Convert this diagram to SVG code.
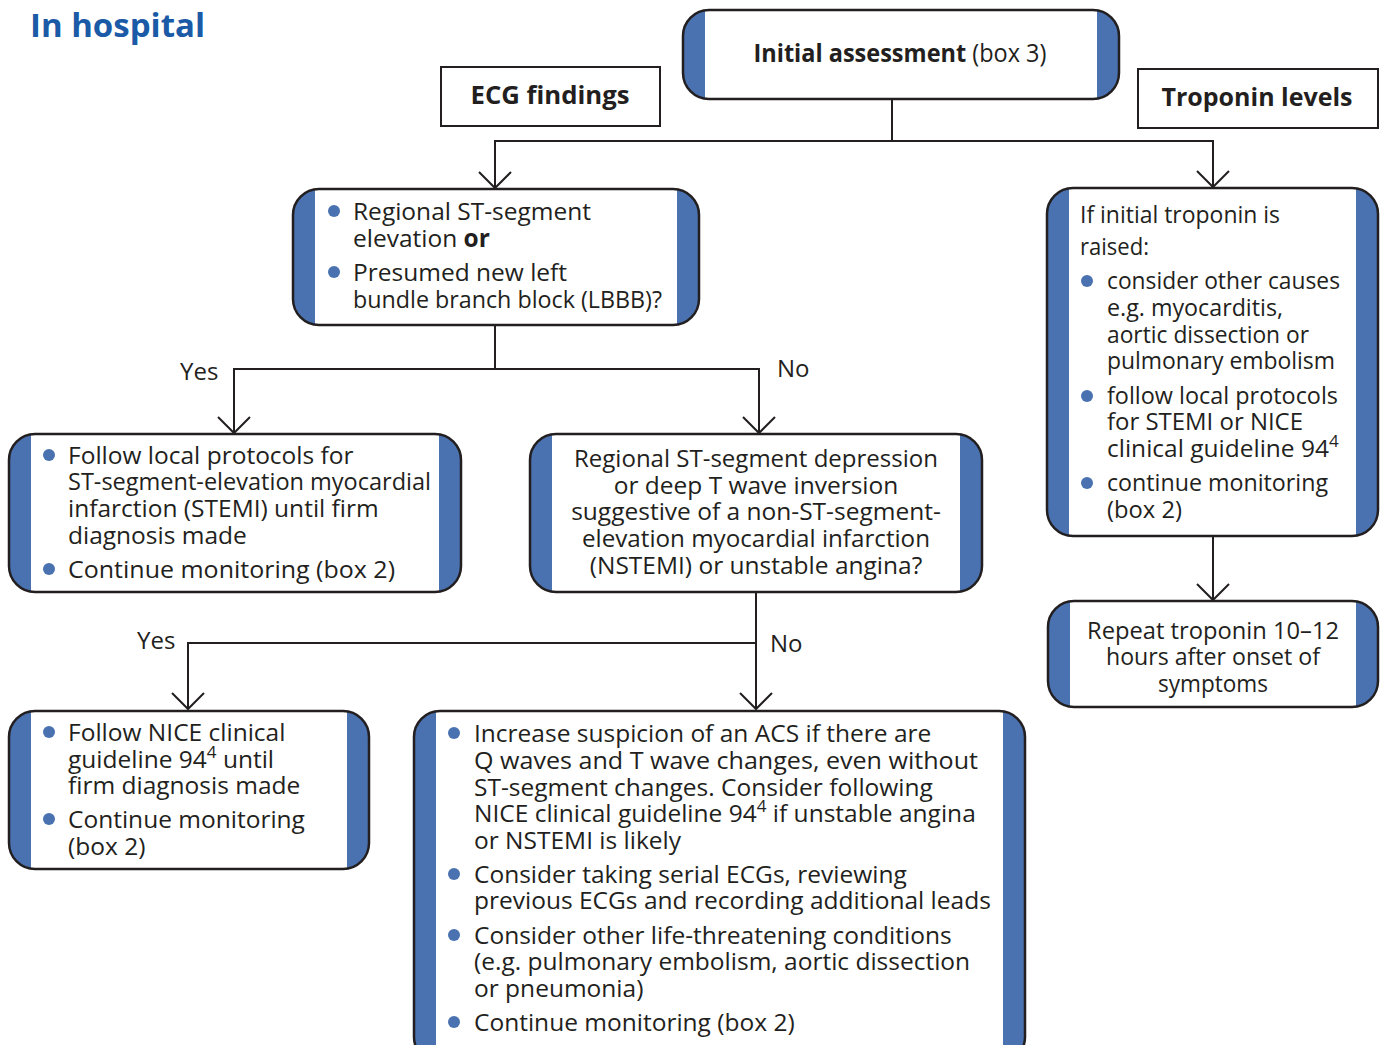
<svg xmlns="http://www.w3.org/2000/svg" width="1385" height="1045" viewBox="0 0 1385 1045">
  <style>
    text { font-family: "Open Sans", "Noto Sans", "Liberation Sans", sans-serif; fill: #231f20; font-size: 24.5px; }
    .title { font-size: 33px; font-weight: bold; fill: #1a5aa6; }
    .hd { font-size: 25px; font-weight: bold; }
    .b { font-weight: bold; }
    .lbl { font-size: 24px; }
    .mid { text-anchor: middle; }
    .sup { font-size: 17px; }
    .band { fill: #4a72b0; stroke: none; }
    .inner { fill: #ffffff; stroke: none; }
    .edge { fill: none; stroke: #231f20; stroke-width: 2.5; }
    .plain { fill: #ffffff; stroke: #231f20; stroke-width: 2; }
    .dot { fill: #4a72b0; }
    .wire { fill: none; stroke: #231f20; stroke-width: 2; }
    .head { fill: none; stroke: #231f20; stroke-width: 2; }
  </style>
  <defs>
    <!-- open arrowhead, tip at the origin, pointing down -->
    <path id="vee" class="head" d="M -16 -16 L 0 0 L 16 -16"/>
  </defs>

  <rect x="0" y="0" width="1385" height="1045" fill="#ffffff"/>

  <text class="title" x="30" y="37">In hospital</text>

  <!-- connectors -->
  <g id="connectors">
    <path class="wire" d="M 892 99 V 141 H 495 V 188"/>
    <path class="wire" d="M 892 141 H 1213 V 187"/>
    <use href="#vee" x="495" y="188"/>
    <use href="#vee" x="1213" y="187"/>

    <path class="wire" d="M 495 325 V 369 H 234 V 433"/>
    <path class="wire" d="M 495 369 H 759 V 433"/>
    <use href="#vee" x="234" y="433"/>
    <use href="#vee" x="759" y="433"/>
    <text class="lbl" x="180" y="380">Yes</text>
    <text class="lbl" x="777" y="377">No</text>

    <path class="wire" d="M 756 592 V 709"/>
    <path class="wire" d="M 756 643 H 188 V 709"/>
    <use href="#vee" x="756" y="709"/>
    <use href="#vee" x="188" y="709"/>
    <text class="lbl" x="137" y="649">Yes</text>
    <text class="lbl" x="770" y="652">No</text>

    <path class="wire" d="M 1213 536 V 600"/>
    <use href="#vee" x="1213" y="600"/>
  </g>

  <!-- header boxes -->
  <g id="n-initial">
    <rect class="band" x="683" y="10" width="436" height="89" rx="26"/>
    <rect class="inner" x="705" y="11" width="392" height="87"/>
    <rect class="edge" x="683" y="10" width="436" height="89" rx="26"/>
    <text class="hd mid" x="900" y="62" font-size="24" textLength="293" lengthAdjust="spacingAndGlyphs"><tspan class="b">Initial assessment</tspan><tspan font-weight="normal"> (box 3)</tspan></text>
  </g>

  <g id="n-ecg">
    <rect class="plain" x="441" y="67" width="219" height="59"/>
    <text class="hd mid" x="550" y="104" textLength="159" lengthAdjust="spacingAndGlyphs">ECG findings</text>
  </g>

  <g id="n-troponin">
    <rect class="plain" x="1138" y="69" width="240" height="59"/>
    <text class="hd mid" x="1257" y="106">Troponin levels</text>
  </g>

  <!-- ST elevation question -->
  <g id="n-st-elevation">
    <rect class="band" x="293" y="189" width="406" height="136" rx="26"/>
    <rect class="inner" x="315" y="190" width="362" height="134"/>
    <rect class="edge" x="293" y="189" width="406" height="136" rx="26"/>
    <circle class="dot" cx="334" cy="211" r="6"/>
    <circle class="dot" cx="334" cy="272" r="6"/>
    <text x="353" y="220">Regional ST-segment</text>
    <text x="353" y="247">elevation <tspan class="b">or</tspan></text>
    <text x="353" y="281">Presumed new left</text>
    <text x="353" y="308" textLength="309" lengthAdjust="spacingAndGlyphs">bundle branch block (LBBB)?</text>
  </g>

  <!-- STEMI pathway -->
  <g id="n-stemi">
    <rect class="band" x="9" y="434" width="452" height="158" rx="26"/>
    <rect class="inner" x="31" y="435" width="408" height="156"/>
    <rect class="edge" x="9" y="434" width="452" height="158" rx="26"/>
    <circle class="dot" cx="49" cy="455" r="6"/>
    <circle class="dot" cx="49" cy="569" r="6"/>
    <text x="68" y="464">Follow local protocols for</text>
    <text x="68" y="490" textLength="363" lengthAdjust="spacingAndGlyphs">ST-segment-elevation myocardial</text>
    <text x="68" y="517">infarction (STEMI) until firm</text>
    <text x="68" y="544">diagnosis made</text>
    <text x="68" y="578" textLength="327" lengthAdjust="spacingAndGlyphs">Continue monitoring (box 2)</text>
  </g>

  <!-- NSTEMI question -->
  <g id="n-st-depression">
    <rect class="band" x="530" y="434" width="452" height="158" rx="26"/>
    <rect class="inner" x="552" y="435" width="408" height="156"/>
    <rect class="edge" x="530" y="434" width="452" height="158" rx="26"/>
    <text class="mid" x="756" y="467" textLength="364" lengthAdjust="spacingAndGlyphs">Regional ST-segment depression</text>
    <text class="mid" x="756" y="494">or deep T wave inversion</text>
    <text class="mid" x="756" y="520">suggestive of a non-ST-segment-</text>
    <text class="mid" x="756" y="547" textLength="348" lengthAdjust="spacingAndGlyphs">elevation myocardial infarction</text>
    <text class="mid" x="756" y="574">(NSTEMI) or unstable angina?</text>
  </g>

  <!-- NICE guideline pathway -->
  <g id="n-nice">
    <rect class="band" x="9" y="711" width="360" height="158" rx="26"/>
    <rect class="inner" x="31" y="712" width="316" height="156"/>
    <rect class="edge" x="9" y="711" width="360" height="158" rx="26"/>
    <circle class="dot" cx="49" cy="732" r="6"/>
    <circle class="dot" cx="49" cy="819" r="6"/>
    <text x="68" y="741">Follow NICE clinical</text>
    <text x="68" y="768">guideline 94<tspan class="sup" dy="-10">4</tspan><tspan dy="10"> until</tspan></text>
    <text x="68" y="794">firm diagnosis made</text>
    <text x="68" y="828">Continue monitoring</text>
    <text x="68" y="855">(box 2)</text>
  </g>

  <!-- no ST change pathway -->
  <g id="n-suspicion">
    <rect class="band" x="414" y="711" width="611" height="352" rx="26"/>
    <rect class="inner" x="436" y="712" width="567" height="350"/>
    <rect class="edge" x="414" y="711" width="611" height="352" rx="26"/>
    <circle class="dot" cx="454" cy="733" r="6"/>
    <circle class="dot" cx="454" cy="874" r="6"/>
    <circle class="dot" cx="454" cy="935" r="6"/>
    <circle class="dot" cx="454" cy="1022" r="6"/>
    <text x="474" y="742">Increase suspicion of an ACS if there are</text>
    <text x="474" y="769" textLength="504" lengthAdjust="spacingAndGlyphs">Q waves and T wave changes, even without</text>
    <text x="474" y="796">ST-segment changes. Consider following</text>
    <text x="474" y="822">NICE clinical guideline 94<tspan class="sup" dy="-10">4</tspan><tspan dy="10"> if unstable angina</tspan></text>
    <text x="474" y="849">or NSTEMI is likely</text>
    <text x="474" y="883">Consider taking serial ECGs, reviewing</text>
    <text x="474" y="909">previous ECGs and recording additional leads</text>
    <text x="474" y="944">Consider other life-threatening conditions</text>
    <text x="474" y="970">(e.g. pulmonary embolism, aortic dissection</text>
    <text x="474" y="997">or pneumonia)</text>
    <text x="474" y="1031">Continue monitoring (box 2)</text>
  </g>

  <!-- raised troponin -->
  <g id="n-raised">
    <rect class="band" x="1047" y="188" width="331" height="348" rx="26"/>
    <rect class="inner" x="1069" y="189" width="287" height="346"/>
    <rect class="edge" x="1047" y="188" width="331" height="348" rx="26"/>
    <circle class="dot" cx="1087" cy="281" r="6"/>
    <circle class="dot" cx="1087" cy="396" r="6"/>
    <circle class="dot" cx="1087" cy="483" r="6"/>
    <text x="1080" y="223" textLength="200" lengthAdjust="spacingAndGlyphs">If initial troponin is</text>
    <text x="1080" y="255" textLength="69" lengthAdjust="spacingAndGlyphs">raised:</text>
    <text x="1107" y="289" textLength="233" lengthAdjust="spacingAndGlyphs">consider other causes</text>
    <text x="1107" y="316" textLength="176" lengthAdjust="spacingAndGlyphs">e.g. myocarditis,</text>
    <text x="1107" y="343" textLength="202" lengthAdjust="spacingAndGlyphs">aortic dissection or</text>
    <text x="1107" y="369" textLength="228" lengthAdjust="spacingAndGlyphs">pulmonary embolism</text>
    <text x="1107" y="404" textLength="231" lengthAdjust="spacingAndGlyphs">follow local protocols</text>
    <text x="1107" y="430" textLength="196" lengthAdjust="spacingAndGlyphs">for STEMI or NICE</text>
    <text x="1107" y="457">clinical guideline 94<tspan class="sup" dy="-10">4</tspan></text>
    <text x="1107" y="491" textLength="221" lengthAdjust="spacingAndGlyphs">continue monitoring</text>
    <text x="1107" y="518" textLength="75" lengthAdjust="spacingAndGlyphs">(box 2)</text>
  </g>

  <!-- repeat troponin -->
  <g id="n-repeat">
    <rect class="band" x="1048" y="601" width="330" height="106" rx="26"/>
    <rect class="inner" x="1070" y="602" width="286" height="104"/>
    <rect class="edge" x="1048" y="601" width="330" height="106" rx="26"/>
    <text class="mid" x="1213" y="639" textLength="252" lengthAdjust="spacingAndGlyphs">Repeat troponin 10–12</text>
    <text class="mid" x="1213" y="665" textLength="214" lengthAdjust="spacingAndGlyphs">hours after onset of</text>
    <text class="mid" x="1213" y="692" textLength="110" lengthAdjust="spacingAndGlyphs">symptoms</text>
  </g>
</svg>
